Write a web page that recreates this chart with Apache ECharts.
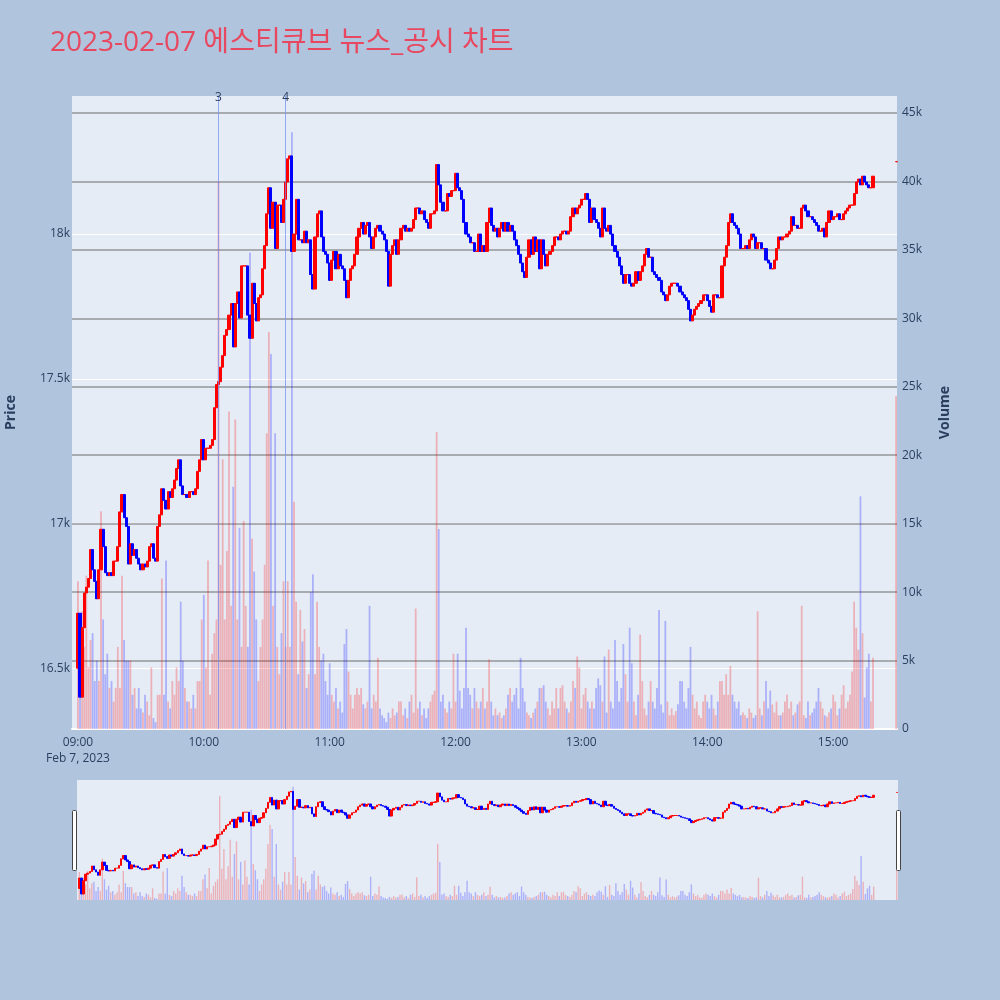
<!DOCTYPE html>
<html><head><meta charset="utf-8">
<script src="https://cdn.jsdelivr.net/npm/echarts@6/dist/echarts.min.js"></script>
<style>html,body{margin:0;padding:0;background:#B0C4DE;}#c{width:1000px;height:1000px;}</style>
</head><body><div id="c"></div>
<script>
const titleText = '2023-02-07 에스티큐브 뉴스_공시 차트';
const dayLabel = 'Feb 7, 2023';
const firstOpen = 16500;
// 1-minute closes from 09:00 to 15:19
const closes = [
16690,16400,16640,16760,16780,16810,16910,16840,16800,16740,
16840,16980,16920,16830,16820,16830,16820,16870,16870,16920,
17040,17100,17020,16990,16860,16930,16890,16910,16880,16860,
16840,16860,16850,16870,16920,16930,16880,16870,16990,17030,
17120,17080,17050,17110,17090,17120,17150,17190,17220,17130,
17100,17100,17090,17110,17110,17100,17120,17180,17220,17290,
17220,17260,17260,17270,17290,17400,17480,17490,17540,17580,
17650,17670,17720,17760,17610,17760,17800,17710,17890,17890,
17890,17720,17640,17830,17760,17700,17780,17790,17880,17960,
18070,18160,18020,18110,17950,18100,18100,18040,18120,18180,
18260,18270,17940,18000,18120,17980,17980,17970,18010,17970,
17980,17860,17810,17990,18070,18080,17990,17940,17930,17900,
17840,17910,17940,17880,17930,17890,17880,17840,17780,17840,
17880,17890,17930,17990,18020,18040,18000,18030,18040,17990,
17950,17990,18020,18030,18010,18000,17980,17940,17820,17930,
17960,17980,17930,17980,18020,18030,18010,18020,18010,18020,
18050,18090,18090,18070,18080,18050,18040,18020,18070,18070,
18080,18240,18170,18110,18080,18080,18140,18130,18150,18150,
18210,18160,18150,18120,18040,18000,17990,17970,17970,17940,
17940,18000,17940,17960,17940,18040,18090,18030,18010,18020,
17990,18020,18040,18010,18040,18010,18030,18010,17980,17960,
17930,17900,17870,17850,17920,17980,17930,17990,17940,17980,
17880,17980,17930,17890,17930,17940,17960,17990,17990,17980,
18000,18010,18010,18000,18010,18060,18090,18070,18090,18100,
18120,18120,18140,18120,18040,18090,18050,18040,18020,17990,
18090,18020,18010,18030,18000,17960,17940,17920,17890,17860,
17830,17860,17860,17830,17820,17830,17870,17840,17870,17890,
17930,17950,17920,17920,17870,17860,17850,17840,17800,17790,
17770,17790,17820,17830,17830,17830,17820,17800,17790,17780,
17770,17740,17700,17720,17740,17750,17760,17770,17790,17790,
17770,17750,17730,17790,17790,17780,17780,17890,17920,17960,
18040,18070,18040,18030,18020,18000,17950,17950,17960,17950,
17980,18000,17990,17950,17970,17970,17950,17950,17910,17900,
17880,17880,17910,17950,17990,17980,17990,17990,18000,18010,
18060,18030,18030,18020,18020,18090,18100,18080,18060,18060,
18050,18040,18030,18010,18010,18020,17990,18040,18080,18050,
18060,18060,18070,18050,18050,18070,18080,18090,18100,18100,
18140,18180,18190,18170,18200,18180,18170,18160,18160,18200
];
const auctionClose = 18250;   // 15:30 closing auction
const volumes = [
10800,4000,8600,6000,11200,4500,6500,7000,3500,5000,
3500,15900,8000,4000,5500,3000,3500,2000,3000,6000,
3000,11200,6500,5000,5000,5000,2500,3000,1500,3000,
1500,1200,2500,2000,1000,4500,800,500,2500,2500,
11000,2500,12300,2000,1500,3500,2500,4500,3500,9300,
5000,3000,2000,2000,1500,2500,1500,3500,3500,8000,
9800,4500,12300,2500,5500,7000,8000,40000,12000,19700,
8000,13000,23200,9000,17700,22600,8000,14700,6000,15200,
9000,6000,34800,13900,11500,8000,3500,6000,8000,12000,
21600,29000,27400,9000,21600,6000,4000,7000,10800,6000,
10800,6000,43600,16600,9300,4000,8700,6400,7300,3000,
4000,10000,11300,4000,9300,6000,5000,5500,3500,2500,
4800,2500,2000,3000,1500,2000,1200,6200,7300,4200,
2500,1500,2500,3000,2500,3000,1800,1500,2000,9000,
1500,2500,2000,5200,1500,1000,800,500,1200,800,
1500,1000,1200,2000,2000,1000,1500,800,2000,2500,
1200,8800,1500,2000,1000,1500,800,1500,2000,2500,
2800,21700,14600,2000,2500,1500,1200,2000,1500,5500,
2000,5500,2800,1500,3000,7400,3000,2500,1500,3000,
2000,1500,2000,3000,1500,2000,5100,2000,1000,1500,
1000,1200,800,1000,1500,2500,3000,2000,2500,3000,
1500,5200,3000,2000,1200,1000,800,1200,1500,2000,
3000,3000,3200,2000,1500,1000,2000,1500,3000,1500,
3000,3200,2000,1500,1200,2000,3500,3000,5300,4500,
1500,2500,3000,2000,1500,2000,1500,3000,3700,3200,
2000,5300,1200,5800,2000,1500,6500,3500,2000,3000,
6200,4000,2000,7400,4800,2000,1000,2500,6900,3500,
1500,1000,2000,3500,2000,1500,3000,8700,1800,1200,
7900,2000,1000,1500,1000,1300,1800,3500,3500,2000,
1500,3000,6000,2500,1500,2000,1000,800,2000,2500,
2000,1500,2500,1500,1000,2000,3500,3500,2500,4000,
2500,4600,2500,2000,1500,2000,1000,1200,1000,800,
1500,1200,800,1000,8600,1500,1000,2000,3500,1500,
2800,1800,1200,2000,1000,1000,1200,2000,2500,1500,
2000,1000,1200,1800,2000,9000,1000,800,2000,1000,
1200,1500,2000,3000,2000,1500,1000,900,1200,1500,
2500,2000,1000,1500,2500,3200,1500,2000,2500,4200,
9300,7400,5800,17000,7000,2300,4500,5500,2000,5200
];
const auctionVolume = 24300;
const newsTimes = [[10, 7], [10, 39]];
const newsLabels = ['3', '4'];
const priceRange = [16290, 18477];
const volumeMax = 46240;

function ts(h, m, s) { return new Date(2023, 1, 7, h, m, s || 0).getTime(); }
const times = closes.map((_, i) => ts(9, i));
times.push(ts(15, 30));
const allClose = closes.concat([auctionClose]);
const allVol = volumes.concat([auctionVolume]);
const candles = allClose.map((c, i) => {
  const contiguous = i > 0 && times[i] - times[i - 1] === 60000;
  const o = i === 0 ? firstOpen : (contiguous ? allClose[i - 1] : c);
  return [times[i], o, c, Math.min(o, c), Math.max(o, c)];
});
const isUp = candles.map(d => d[2] >= d[1]);
const UP = '#ff0000', DOWN = '#0000ff';
const VUP = 'rgba(255,0,0,0.25)', VDOWN = 'rgba(0,0,255,0.25)';
const volData = allVol.map((v, i) => ({ value: [times[i], v], itemStyle: { color: isUp[i] ? VUP : VDOWN } }));

const FONT = '"Open Sans", "Noto Sans CJK KR", sans-serif';
const TXT = '#2a3f5f';
const pad = n => String(n).padStart(2, '0');

const chart = echarts.init(document.getElementById('c'), null, { renderer: 'canvas' });
const candleStyle = { color: UP, color0: DOWN, borderColor: UP, borderColor0: DOWN, borderWidth: 1 };
chart.setOption({
  animation: false,
  backgroundColor: '#B0C4DE',
  textStyle: { fontFamily: FONT },
  title: { text: titleText, left: 45, top: 24, textStyle: { color: '#E8485F', fontSize: 28, fontWeight: 'normal', fontFamily: FONT } },
  grid: [
    { left: 72, right: 103, top: 96, height: 633, show: true, backgroundColor: '#E5ECF6', borderWidth: 0, outerBoundsMode: 'none', containLabel: false },
    { left: 77, right: 102, top: 780, height: 120, show: true, backgroundColor: '#E5ECF6', borderWidth: 0, outerBoundsMode: 'none', containLabel: false }
  ],
  xAxis: [
    { type: 'time', gridIndex: 0, min: ts(8, 57, 36), max: ts(15, 30),
      axisLine: { show: true, lineStyle: { color: '#ffffff', width: 2 } },
      axisTick: { show: false }, splitLine: { show: false },
      axisLabel: { color: TXT, fontSize: 12, margin: 6, lineHeight: 16, showMinLabel: false, showMaxLabel: false,
        hideOverlap: false,
        formatter: v => { const d = new Date(v); if (d.getMinutes() !== 0 || d.getSeconds() !== 0) return '';
          const s = pad(d.getHours()) + ':' + pad(d.getMinutes()); return d.getHours() === 9 ? s + '\n' + dayLabel : s; } } },
    { type: 'time', gridIndex: 1, min: ts(8, 59, 15), max: ts(15, 30, 15), show: false }
  ],
  yAxis: [
    { type: 'value', gridIndex: 0, position: 'left', min: priceRange[0], max: priceRange[1], scale: true,
      name: 'Price', nameLocation: 'middle', nameGap: 54,
      nameTextStyle: { color: TXT, fontSize: 14, fontWeight: 'bold', fontFamily: FONT },
      axisLine: { show: false }, axisTick: { show: false },
      axisLabel: { color: TXT, fontSize: 12, margin: 2, showMinLabel: false, showMaxLabel: false,
        formatter: v => (v / 1000) + 'k' },
      splitLine: { show: true, showMinLine: false, showMaxLine: false, lineStyle: { color: '#ffffff', width: 1 } } },
    { type: 'value', gridIndex: 0, position: 'right', min: 0, max: volumeMax, interval: 5000,
      name: 'Volume', nameLocation: 'middle', nameGap: 41,
      nameTextStyle: { color: TXT, fontSize: 14, fontWeight: 'bold', fontFamily: FONT },
      axisLine: { show: false }, axisTick: { show: false },
      axisLabel: { color: TXT, fontSize: 12, margin: 5, showMaxLabel: false,
        formatter: v => v === 0 ? '0' : (v / 1000) + 'k' },
      splitLine: { show: true, showMinLine: false, showMaxLine: false, lineStyle: { color: 'rgba(120,120,120,0.75)', width: 1.5 } } },
    { type: 'value', gridIndex: 1, min: priceRange[0], max: priceRange[1], show: false, splitLine: { show: false } },
    { type: 'value', gridIndex: 1, min: 0, max: volumeMax, show: false, splitLine: { show: false } }
  ],
  series: [
    { type: 'bar', xAxisIndex: 0, yAxisIndex: 1, data: volData, barWidth: 1.8, z: 1 },
    { type: 'candlestick', xAxisIndex: 0, yAxisIndex: 0, data: candles, barWidth: 2.6, itemStyle: candleStyle, z: 3,
      markLine: { silent: true, symbol: ['none', 'none'], animation: false,
        lineStyle: { color: 'rgba(110,140,250,0.7)', width: 1, type: 'solid' },
        label: { show: true, position: 'end', distance: -8, color: TXT, fontSize: 12, formatter: p => p.name },
        data: newsTimes.map((t, k) => ({ name: newsLabels[k], xAxis: ts(t[0], t[1]) })) } },
    { type: 'bar', xAxisIndex: 1, yAxisIndex: 3, data: volData, barWidth: 1.4, z: 1 },
    { type: 'candlestick', xAxisIndex: 1, yAxisIndex: 2, data: candles, barWidth: 2, itemStyle: candleStyle, z: 3 }
  ],
  graphic: [
    { type: 'rect', left: 72, top: 810, z: 100, shape: { width: 4, height: 60, r: 1 }, style: { fill: '#ffffff', stroke: '#444', lineWidth: 1 } },
    { type: 'rect', left: 896, top: 810, z: 100, shape: { width: 4, height: 60, r: 1 }, style: { fill: '#ffffff', stroke: '#444', lineWidth: 1 } }
  ]
});
</script></body></html>
